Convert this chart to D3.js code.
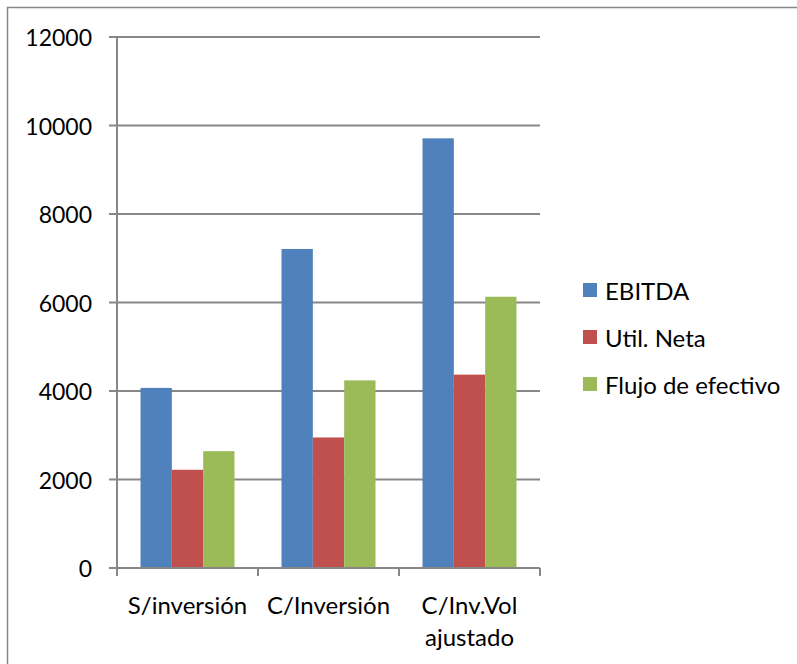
<!DOCTYPE html>
<html>
<head>
<meta charset="utf-8">
<script src="https://cdn.jsdelivr.net/npm/d3@7"></script>
<style>
  html, body { margin: 0; padding: 0; background: #fff; }
  svg { display: block; }
  text { font-family: Lato, "Open Sans", sans-serif; fill: #000; }
</style>
</head>
<body>
<svg id="chart" width="797" height="664"></svg>
<script>
// Scenario categories (x axis)
const categories = ["S/inversión", "C/Inversión", "C/Inv.Vol ajustado"];
// Series names and their values per category
const seriesNames = ["EBITDA", "Util. Neta", "Flujo de efectivo"];
const ebitda = [4070, 7210, 9710];
const utilNeta = [2220, 2950, 4370];
const flujo = [2640, 4240, 6130];
// Y axis ticks
const yTicks = [0, 2000, 4000, 6000, 8000, 10000, 12000];

const seriesValues = [ebitda, utilNeta, flujo];
const colors = ["#4F81BD", "#C0504D", "#9BBB59"];
const gridColor = "#878787";

const svg = d3.select("#chart");

// Outer frame of the chart area
svg.append("rect")
  .attr("x", 7.5).attr("y", 7.5)
  .attr("width", 800).attr("height", 700)
  .attr("fill", "none").attr("stroke", gridColor).attr("stroke-width", 1.5);

const plot = { left: 117, right: 540, top: 37, bottom: 568 };

const x0 = d3.scaleBand().domain(categories).range([plot.left, plot.right]);
const x1 = d3.scaleBand().domain(seriesNames).range([0, x0.bandwidth()])
  .paddingInner(0).paddingOuter(0.75);
const y = d3.scaleLinear().domain([0, 12000]).range([plot.bottom, plot.top]);

// Horizontal gridlines with left tick marks
svg.append("g").selectAll("line").data(yTicks).join("line")
  .attr("x1", plot.left - 8).attr("x2", plot.right)
  .attr("y1", d => y(d)).attr("y2", d => y(d))
  .attr("stroke", gridColor).attr("stroke-width", 2);

// Y tick labels
svg.append("g").selectAll("text").data(yTicks).join("text")
  .attr("x", 92).attr("y", d => y(d))
  .attr("text-anchor", "end").attr("dominant-baseline", "central")
  .style("font-size", "23px")
  .text(d => d);

// Bars
const groups = svg.append("g").selectAll("g").data(categories).join("g")
  .attr("transform", c => `translate(${x0(c)},0)`);
groups.selectAll("rect")
  .data((c, i) => seriesNames.map((s, k) => ({ s, k, v: seriesValues[k][i] })))
  .join("rect")
  .attr("x", d => x1(d.s)).attr("width", x1.bandwidth())
  .attr("y", d => y(d.v)).attr("height", d => y(0) - y(d.v))
  .attr("fill", d => colors[d.k]);

// Y axis line
svg.append("line")
  .attr("x1", plot.left).attr("x2", plot.left)
  .attr("y1", plot.top).attr("y2", plot.bottom + 1)
  .attr("stroke", gridColor).attr("stroke-width", 2);

// X axis line and category boundary ticks
svg.append("line")
  .attr("x1", plot.left).attr("x2", plot.right)
  .attr("y1", y(0)).attr("y2", y(0))
  .attr("stroke", gridColor).attr("stroke-width", 2);
const boundaries = categories.map(c => x0(c)).concat([x0(categories[categories.length - 1]) + x0.bandwidth()]);
svg.append("g").selectAll("line").data(boundaries).join("line")
  .attr("x1", d => d).attr("x2", d => d)
  .attr("y1", y(0)).attr("y2", y(0) + 8)
  .attr("stroke", gridColor).attr("stroke-width", 2);

// Category labels (the long one wraps onto two lines)
const catLines = {
  "S/inversión": ["S/inversión"],
  "C/Inversión": ["C/Inversión"],
  "C/Inv.Vol ajustado": ["C/Inv.Vol", "ajustado"]
};
svg.append("g").selectAll("text").data(categories).join("text")
  .attr("x", c => x0(c) + x0.bandwidth() / 2)
  .attr("y", 604)
  .attr("text-anchor", "middle").attr("dominant-baseline", "central")
  .style("font-size", "24px")
  .each(function (c) {
    const t = d3.select(this);
    catLines[c].forEach((line, i) => {
      t.append("tspan").attr("x", x0(c) + x0.bandwidth() / 2)
        .attr("dy", i === 0 ? 0 : 32).text(line);
    });
  });

// Legend
const legend = svg.append("g").selectAll("g").data(seriesNames).join("g")
  .attr("transform", (d, i) => `translate(583,${290 + i * 47})`);
legend.append("rect")
  .attr("x", 0).attr("y", -7).attr("width", 14).attr("height", 14)
  .attr("fill", (d, i) => colors[i]);
legend.append("text")
  .attr("x", 22).attr("y", 0).attr("dominant-baseline", "central")
  .style("font-size", "24px")
  .text(d => d);
</script>
</body>
</html>
